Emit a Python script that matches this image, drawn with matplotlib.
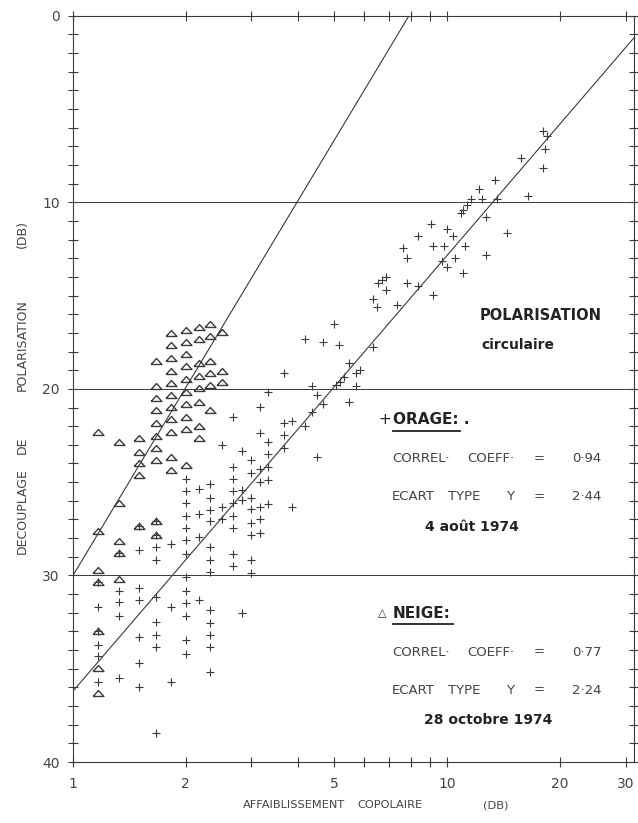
import numpy as np
import matplotlib
matplotlib.use('Agg')
import matplotlib.pyplot as plt
from matplotlib.ticker import FixedLocator, NullFormatter, FixedFormatter

# orage (+) : affaiblissement copolaire (dB) vs decouplage (dB)
orage_x = [1.17]*6 + [1.33]*5 + [1.5]*7 + [1.67]*9 + [1.83]*3 + [2.0]*13 + [2.17]*4 + \
          [2.33]*12 + [2.5]*3 + [2.67]*9 + [2.83]*4 + [3.0]*8 + [3.17]*7 + [3.33]*6 + \
          [3.67]*4 + [3.84]*2 + [4.17]*2 + [4.35]*2 + [4.48]*2 + [4.65]*2 + \
          [5.0, 5.05, 5.15, 5.18, 5.30, 5.48, 5.48, 5.71, 5.71, 5.85,
           6.35, 6.35, 6.49, 6.53, 6.69, 6.87, 6.87, 7.34, 7.64, 7.83, 7.83,
           8.35, 8.35, 9.04, 9.19, 9.19, 9.68, 9.82, 10.0, 10.0, 10.35, 10.5,
           10.9, 11.0, 11.05, 11.2, 11.3, 11.6, 12.2, 12.4, 12.7, 12.7,
           13.4, 13.6, 14.5, 15.8, 16.5, 18.0, 18.1, 18.3, 18.5]
orage_y = [30.33, 31.67, 33.0, 33.72, 34.31, 35.69,
           28.81, 30.81, 31.45, 32.17, 35.5,
           27.35, 28.63, 30.69, 31.31, 33.31, 34.67, 35.99,
           27.1, 27.83, 28.45, 29.17, 31.17, 32.47, 33.19, 33.81, 38.46,
           28.31, 31.67, 35.69,
           24.84, 25.45, 26.13, 26.81, 27.47, 28.1, 28.85, 30.1, 30.81, 31.49, 32.17, 33.46, 34.21,
           25.36, 26.7, 27.95, 31.31,
           25.11, 25.86, 26.49, 27.1, 28.45, 29.17, 29.83, 31.85, 32.53, 33.19, 33.85, 35.16,
           23.0, 26.31, 26.97,
           21.49, 24.17, 24.84, 25.45, 26.13, 26.81, 27.47, 28.85, 29.47,
           23.35, 25.42, 25.95, 32.0,
           23.8, 24.49, 25.86, 26.45, 27.17, 27.83, 29.17, 29.85,
           20.99, 22.35, 24.3, 24.97, 26.31, 26.97, 27.7,
           20.15, 22.83, 23.5, 24.17, 24.88, 26.17,
           19.13, 21.85, 22.47, 23.15,
           21.7, 26.35,
           17.34, 21.99,
           19.84, 21.22,
           20.33, 23.63,
           17.47, 20.81,
           16.52, 19.79, 17.65, 19.61, 19.38, 18.63, 20.69, 19.16, 19.84, 18.99,
           17.73, 15.18, 15.63, 14.31, 14.16, 13.99, 14.7, 15.5, 12.47, 13.0, 14.31,
           11.81, 14.47, 11.16, 12.33, 14.97, 13.15, 12.33, 11.45, 13.48, 11.81, 13.0,
           10.55, 13.77, 10.41, 12.33, 10.14, 9.84, 9.3, 9.84, 10.8, 12.82,
           8.8, 9.84, 11.66, 7.64, 9.66, 8.18, 6.16, 7.16, 6.45]

# neige (triangles)
neige_x = [1.17]*7 + [1.33]*5 + [1.5]*5 + [1.67]*10 + [1.83]*11 + [2.0]*10 + \
          [2.17]*8 + [2.33]*6 + [2.5]*3
neige_y = [22.33, 27.6, 29.7, 30.33, 33.0, 34.97, 36.31,
           22.83, 26.1, 28.13, 28.81, 30.2,
           22.65, 23.36, 23.99, 24.6, 27.35,
           18.5, 19.84, 20.47, 21.13, 21.85, 22.52, 23.15, 23.8, 27.1, 27.83,
           17.0, 17.65, 18.36, 19.02, 19.67, 20.33, 20.99, 21.63, 22.29, 23.67, 24.35,
           16.84, 17.5, 18.15, 18.8, 19.49, 20.15, 20.83, 21.49, 22.15, 24.1,
           16.67, 17.34, 18.63, 19.31, 19.97, 20.68, 21.99, 22.65,
           16.52, 17.17, 18.5, 19.13, 19.81, 21.13,
           16.97, 19.02, 19.65]

# droites de regression  y = a - b*log10(x)
neige_a, neige_b = 30.0, 33.4
orage_a, orage_b = 36.2, 23.35

xticks_all = [1, 2, 3, 4, 5, 6, 7, 8, 9, 10, 20, 30]
xtick_labels = ['1', '2', '', '', '5', '', '', '', '', '10', '20', '30']
yticks_major = [0, 10, 20, 30, 40]

ink = '#3a3a3a'
fig = plt.figure(figsize=(6.38, 8.23), dpi=100)
ax = fig.add_axes([0.1144, 0.0741, 0.8793, 0.9068])
ax.set_xscale('log')
ax.set_xlim(1, 31.6)
ax.set_ylim(40, 0)

for v in [10, 20, 30]:
    ax.axhline(v, color=ink, lw=0.7)

xx = np.logspace(0, np.log10(31.6), 200)
ax.plot(xx, neige_a - neige_b*np.log10(xx), color=ink, lw=0.8)
ax.plot(xx, orage_a - orage_b*np.log10(xx), color=ink, lw=0.8)

tri = [(-1, -0.55), (1, -0.55), (0, 0.55), (-1, -0.55)]
ax.plot(orage_x, orage_y, ls='none', marker='+', ms=6.2, mew=0.8, color=ink)
ax.plot(neige_x, neige_y, ls='none', marker=tri, ms=7.8, mew=1.0, mfc='none', mec=ink)

ax.xaxis.set_major_locator(FixedLocator(xticks_all))
ax.xaxis.set_minor_locator(FixedLocator([]))
ax.xaxis.set_major_formatter(FixedFormatter(xtick_labels))
ax.xaxis.set_minor_formatter(NullFormatter())
ax.yaxis.set_major_locator(FixedLocator(yticks_major))
ax.yaxis.set_minor_locator(FixedLocator(list(range(0, 41))))
ax.tick_params(axis='both', which='both', direction='inout', length=7, width=0.8,
               color=ink, top=True, right=True, labelsize=10, labelcolor='#444')
ax.tick_params(axis='x', pad=7)
ax.tick_params(axis='y', pad=6)
for s in ax.spines.values():
    s.set_color(ink)
    s.set_linewidth(0.8)

def ftext(px, py, s, **kw):
    # position en pixels de l'image d'origine
    return fig.text(px/638, 1 - py/823, s, **kw)

# titre axe y, mot par mot
for word, yc in [('(DB)', 234), ('POLARISATION', 345), ('DE', 445), ('DECOUPLAGE', 511)]:
    ftext(22, yc, word, rotation=90, fontsize=9, color='#444', ha='center', va='center')
# titre axe x
for word, xl in [('AFFAIBLISSEMENT', 243), ('COPOLAIRE', 357), ('(DB)', 483)]:
    ftext(xl, 808, word, fontsize=8.2, color='#444', ha='left', va='baseline')

bold = dict(fontweight='bold', color='#222', va='center')
thin = dict(fontsize=9.5, color='#444', va='center', ha='left')
ftext(480, 315, 'POLARISATION', fontsize=10.5, ha='left', **bold)
ftext(481, 345, 'circulaire', fontsize=10, ha='left', **bold)

def bloc(y0, titre, sym, sym_size, corr, ecart, date, date_x, ul_end):
    ftext(378, y0, sym, fontsize=sym_size, ha='left', color='#222', va='center')
    ftext(393, y0, titre, fontsize=11, ha='left', **bold)
    fig.add_artist(plt.Line2D([393/638, ul_end/638], [1-(y0+11)/823]*2, color='#222', lw=1.3))
    for py, mots in [(y0+39, [('CORREL·', 392), ('COEFF·', 467), ('=', 534), (corr, 572)]),
                     (y0+77, [('ECART', 392), ('TYPE', 448), ('Y', 506), ('=', 534), (ecart, 572)])]:
        for m, px in mots:
            ftext(px, py, m, **thin)
    ftext(date_x, y0+107, date, fontsize=10, ha='center', **bold)

bloc(420, 'ORAGE: .', '+', 11, '0·94', '2·44', '4 août 1974', 472, 460)
bloc(613, 'NEIGE:', '△', 8, '0·77', '2·24', '28 octobre 1974', 488, 453)

fig.savefig('out.png', dpi=100, facecolor='white')
